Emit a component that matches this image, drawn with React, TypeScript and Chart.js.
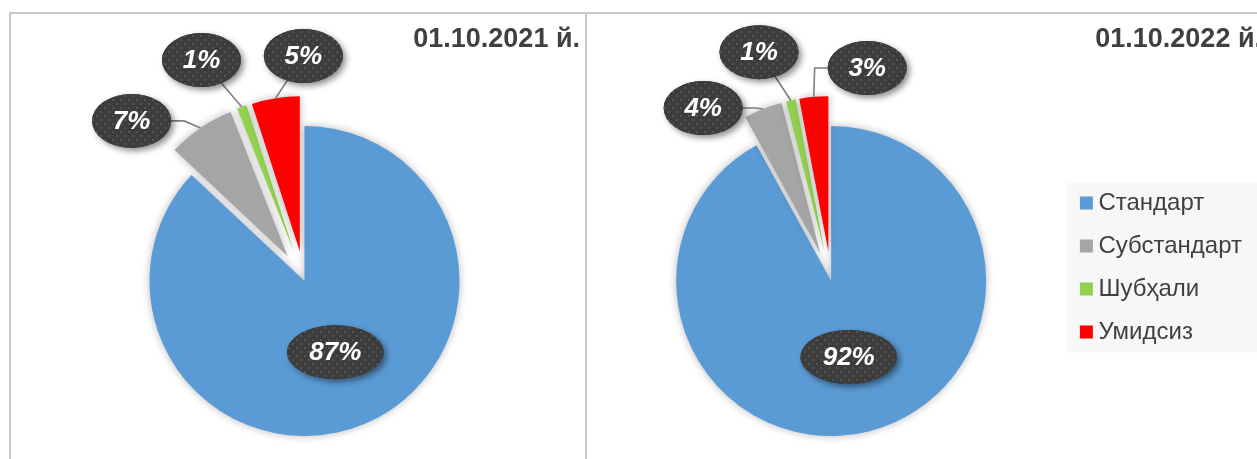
import React, { useEffect, useRef } from 'react';
import { Chart, registerables } from 'chart.js';

Chart.register(...registerables);

// ---- data ----
const categories = ['Стандарт', 'Субстандарт', 'Шубҳали', 'Умидсиз'];
const values2021 = [87, 7, 1, 5];
const values2022 = [92, 4, 1, 3];
const title2021 = '01.10.2021 й.';
const title2022 = '01.10.2022 й.';

// ---- style ----
const COLORS = ['#5b9bd5', '#a5a5a5', '#92d050', '#ff0000'];
const EXPLODE = [0, 30, 30, 30];
const FONT = '"Liberation Sans", Arial, Helvetica, sans-serif';
const RADIUS = 155;

// label placement: angle shift from slice bisector (deg) and distance as fraction of radius
type Place = { da: number; r: number };
const PLACE_2021: Place[] = [
  { da: 0, r: 0.5 },
  { da: -13, r: 1.52 },
  { da: -5.2, r: 1.573 },
  { da: 8.7, r: 1.452 },
];
const PLACE_2022: Place[] = [
  { da: 1.4, r: 0.503 },
  { da: -14.9, r: 1.388 },
  { da: -4.9, r: 1.548 },
  { da: 15, r: 1.394 },
];

let patternCache: CanvasPattern | null = null;
function getPattern(ctx: CanvasRenderingContext2D): CanvasPattern | string {
  if (patternCache) return patternCache;
  const c = document.createElement('canvas');
  c.width = 8;
  c.height = 8;
  const g = c.getContext('2d');
  if (!g) return '#3c3c3c';
  g.fillStyle = '#3c3c3c';
  g.fillRect(0, 0, 8, 8);
  g.fillStyle = '#535353';
  g.fillRect(1, 1, 2, 2);
  g.fillRect(5, 5, 2, 2);
  const p = ctx.createPattern(c, 'repeat');
  if (p) patternCache = p;
  return p || '#3c3c3c';
}

function makePlugin(placement: Place[], titleShift: number) {
  return {
    id: 'explodedPie',
    afterLayout(chart: any) {
      const t = chart.titleBlock;
      if (t && titleShift) {
        t.left += titleShift;
        t.right += titleShift;
      }
    },
    afterDatasetUpdate(chart: any, args: any) {
      const meta = args.meta;
      meta.data.forEach((arc: any, i: number) => {
        const e = EXPLODE[i] || 0;
        const half = (arc.startAngle + arc.endAngle) / 2;
        arc.x += Math.cos(half) * e;
        arc.y += Math.sin(half) * e;
      });
    },
    beforeDraw(chart: any) {
      const L = chart.legend;
      if (!L || !chart.options.plugins.legend.display) return;
      const ctx = chart.ctx;
      const mid = (L.top + L.bottom) / 2;
      ctx.save();
      ctx.fillStyle = '#f7f7f7';
      ctx.fillRect(L.left, mid - 85, chart.width - L.left, 170);
      ctx.restore();
    },
    beforeDatasetsDraw(chart: any) {
      const ctx = chart.ctx;
      ctx.save();
      ctx.shadowColor = 'rgba(0,0,0,0.28)';
      ctx.shadowBlur = 9;
      ctx.shadowOffsetX = 0;
      ctx.shadowOffsetY = 0;
    },
    afterDatasetsDraw(chart: any) {
      const ctx: CanvasRenderingContext2D = chart.ctx;
      ctx.restore();
      const meta = chart.getDatasetMeta(0);
      const ca = chart.chartArea;
      const cx = (ca.left + ca.right) / 2;
      const cy = (ca.top + ca.bottom) / 2;
      const R = meta.controller.outerRadius;
      const data = chart.data.datasets[0].data as number[];
      const total = data.reduce((a, b) => a + b, 0);
      ctx.save();
      ctx.font = `italic bold 26px ${FONT}`;
      const items = meta.data.map((arc: any, i: number) => {
        const half = (arc.startAngle + arc.endAngle) / 2;
        const p = placement[i];
        const ang = half + (p.da * Math.PI) / 180;
        const E = { x: cx + Math.cos(ang) * R * p.r, y: cy + Math.sin(ang) * R * p.r };
        const text = Math.round((data[i] / total) * 100) + '%';
        const tw = ctx.measureText(text).width;
        const rx = tw * 0.6 + 17;
        const ry = 27;
        const P = p.r > 1 ? { x: arc.x + Math.cos(half) * R, y: arc.y + Math.sin(half) * R } : null;
        return { E, text, rx, ry, P };
      });
      // leader lines
      ctx.strokeStyle = '#7f7f7f';
      ctx.lineWidth = 1.6;
      items.forEach((it: any) => {
        if (!it.P) return;
        const { E, P, rx, ry } = it;
        const dx = P.x - E.x;
        const dy = P.y - E.y;
        ctx.beginPath();
        ctx.moveTo(P.x, P.y);
        if (Math.abs(dx) / rx > Math.abs(dy) / ry) {
          const sx = Math.sign(dx);
          const ax = E.x + sx * rx;
          const stub = Math.min(13, Math.abs(P.x - ax));
          ctx.lineTo(ax + sx * stub, E.y);
          ctx.lineTo(ax, E.y);
        } else {
          const len = Math.hypot(dx, dy);
          const ux = dx / len;
          const uy = dy / len;
          const t = 1 / Math.sqrt((ux / rx) ** 2 + (uy / ry) ** 2);
          ctx.lineTo(E.x + ux * t, E.y + uy * t);
        }
        ctx.stroke();
      });
      // bubbles
      const pat = getPattern(ctx);
      items.forEach((it: any) => {
        const { E, rx, ry, text } = it;
        ctx.save();
        ctx.shadowColor = 'rgba(0,0,0,0.45)';
        ctx.shadowBlur = 6;
        ctx.shadowOffsetX = 3;
        ctx.shadowOffsetY = 3;
        ctx.beginPath();
        ctx.ellipse(E.x, E.y, rx, ry, 0, 0, Math.PI * 2);
        ctx.fillStyle = '#3c3c3c';
        ctx.fill();
        ctx.restore();
        ctx.beginPath();
        ctx.ellipse(E.x, E.y, rx, ry, 0, 0, Math.PI * 2);
        ctx.fillStyle = pat as any;
        ctx.fill();
        ctx.fillStyle = '#ffffff';
        ctx.textAlign = 'center';
        ctx.textBaseline = 'middle';
        ctx.fillText(text, E.x, E.y + 1);
      });
      ctx.restore();
    },
  };
}

type PieProps = {
  values: number[];
  title: string;
  placement: Place[];
  showLegend: boolean;
  left: number;
  width: number;
  titleShift: number;
  padding: { top: number; left: number; right: number; bottom: number };
};

function PieChart({ values, title, placement, showLegend, left, width, titleShift, padding }: PieProps) {
  const ref = useRef<HTMLCanvasElement>(null);
  const height = 520;
  useEffect(() => {
    if (!ref.current) return;
    const chart = new Chart(ref.current, {
      type: 'pie',
      data: {
        labels: categories,
        datasets: [
          {
            data: values,
            backgroundColor: COLORS,
            borderWidth: 0,
            radius: RADIUS,
          } as any,
        ],
      },
      options: {
        responsive: false,
        animation: false,
        events: [],
        layout: { padding },
        plugins: {
          tooltip: { enabled: false },
          legend: {
            display: showLegend,
            position: 'right',
            fullSize: true,
            align: 'center',
            labels: {
              usePointStyle: true,
              pointStyle: 'rect',
              boxWidth: 0.1,
              boxHeight: 13,
              padding: 19,
              color: '#404040',
              font: { size: 24, family: FONT },
            },
          },
          title: {
            display: true,
            text: title,
            align: 'end',
            color: '#404040',
            font: { size: 27, weight: 'bold', family: FONT, lineHeight: 1 },
            padding: { top: 0, bottom: 0 },
          },
        },
      } as any,
      plugins: [makePlugin(placement, titleShift) as any],
    });
    return () => chart.destroy();
  }, []);
  return (
    <canvas
      ref={ref}
      width={width}
      height={height}
      style={{ position: 'absolute', left, top: 14, width, height }}
    />
  );
}

export default function App() {
  const line = '#c8c8c8';
  return (
    <div
      style={{
        position: 'fixed',
        left: 0,
        top: 0,
        width: 1257,
        height: 459,
        overflow: 'hidden',
        background: '#ffffff',
      }}
    >
      <div style={{ position: 'absolute', left: 9, top: 12, width: 1300, height: 2, background: line }} />
      <div style={{ position: 'absolute', left: 9, top: 12, width: 2, height: 460, background: line }} />
      <div style={{ position: 'absolute', left: 585, top: 12, width: 2, height: 460, background: line }} />
      <PieChart
        values={values2021}
        title={title2021}
        placement={PLACE_2021}
        showLegend={false}
        left={11}
        width={574}
        titleShift={0}
        padding={{ top: 12, left: 18, right: 5, bottom: 25 }}
      />
      <PieChart
        values={values2022}
        title={title2022}
        placement={PLACE_2022}
        showLegend={true}
        left={587}
        width={690}
        titleShift={10}
        padding={{ top: 12, left: 8, right: 25, bottom: 25 }}
      />
    </div>
  );
}
